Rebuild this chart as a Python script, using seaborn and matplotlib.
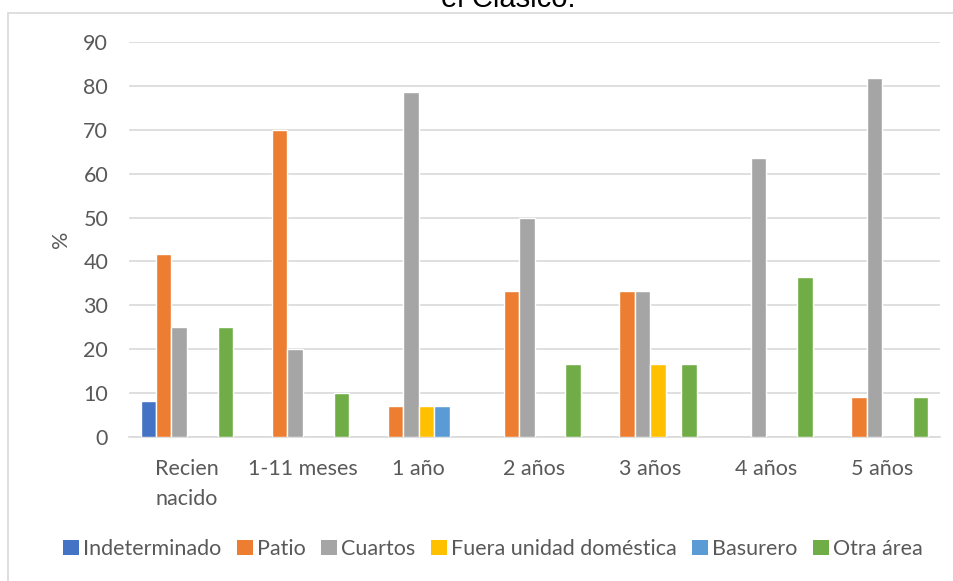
import numpy as np
import pandas as pd
import seaborn as sns
import matplotlib.pyplot as plt
from matplotlib.patches import Rectangle, Patch

# Age groups and burial location percentages
categories = ["Recien\nnacido", "1-11 meses", "1 año", "2 años", "3 años", "4 años", "5 años"]
series_names = ["Indeterminado", "Patio", "Cuartos", "Fuera unidad doméstica", "Basurero", "Otra área"]
indeterminado = [8.3, 0, 0, 0, 0, 0, 0]
patio = [41.7, 70.0, 7.1, 33.3, 33.3, 0, 9.1]
cuartos = [25.0, 20.0, 78.6, 50.0, 33.3, 63.6, 81.8]
fuera = [0, 0, 7.1, 0, 16.7, 0, 0]
basurero = [0, 0, 7.1, 0, 0, 0, 0]
otra = [25.0, 10.0, 0, 16.7, 16.7, 36.4, 9.1]
y_ticks = [0, 10, 20, 30, 40, 50, 60, 70, 80, 90]

colors = ["#4472C4", "#ED7D31", "#A5A5A5", "#FFC000", "#5B9BD5", "#70AD47"]

series_values = [indeterminado, patio, cuartos, fuera, basurero, otra]
rows = []
for name, vals in zip(series_names, series_values):
    for cat, v in zip(categories, vals):
        rows.append({"edad": cat, "lugar": name, "pct": v})
df = pd.DataFrame(rows)

sns.set_theme(style="white")
plt.rcParams["font.family"] = ["Lato", "DejaVu Sans"]

W, H = 954, 581
fig = plt.figure(figsize=(W / 100, H / 100), dpi=100)

# Outer chart frame
fig.patches.append(Rectangle((8 / W, -0.2), 1.2, 1.2 - 13 / H, transform=fig.transFigure,
                             fill=False, edgecolor="#d9d9d9", linewidth=1.2, zorder=0))

# Title (only the last line fits in the canvas)
fig.text(508 / W, 1 - 7 / H, "el Clásico.", ha="center", va="baseline",
         fontsize=21, color="#000000", family=["Liberation Sans", "DejaVu Sans"])

ax = fig.add_axes([129 / W, 1 - 437 / H, (940 - 129) / W, (437 - 42) / H])
sns.barplot(data=df, x="edad", y="pct", hue="lugar", order=categories,
            hue_order=series_names, palette=colors, saturation=1, width=0.8,
            errorbar=None, edgecolor="white", linewidth=1.0, ax=ax, zorder=3,
            legend=False)

for p in ax.patches:
    if p.get_height() == 0:
        p.set_visible(False)

ax.set_ylim(0, 90)
ax.set_yticks(y_ticks)
ax.set_xlim(-0.5, len(categories) - 0.5)
ax.grid(axis="y", color="#d9d9d9", linewidth=1.2, zorder=0)
ax.set_axisbelow(True)
for s in ["top", "right", "left"]:
    ax.spines[s].set_visible(False)
ax.spines["bottom"].set_color("#d9d9d9")
ax.spines["bottom"].set_linewidth(1.2)
ax.tick_params(axis="both", length=0, labelsize=15.5, labelcolor="#595959")
ax.tick_params(axis="y", pad=15)
ax.tick_params(axis="x", pad=16)
for t in ax.get_xticklabels():
    t.set_linespacing(1.6)
ax.set_xlabel("")
ax.set_ylabel("%", fontsize=15.5, color="#595959", labelpad=9)

handles = [Patch(facecolor=c, edgecolor="none") for c in colors]
fig.legend(handles, series_names, loc="center", bbox_to_anchor=(493 / W, 1 - 549 / H), ncol=6,
           frameon=False, fontsize=15.5, labelcolor="#595959", handlelength=0.75,
           handleheight=0.75, handletextpad=0.2, columnspacing=0.7, borderaxespad=0)

fig.savefig("out.png", dpi=100, facecolor="white")
